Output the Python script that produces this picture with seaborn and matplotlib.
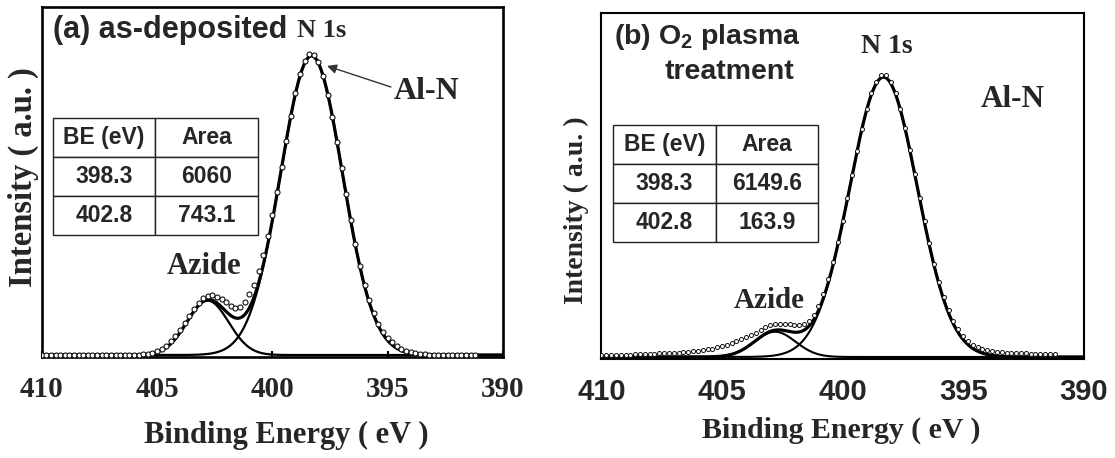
import numpy as np
import pandas as pd
import matplotlib
matplotlib.use("Agg")
import matplotlib.pyplot as plt
from matplotlib.font_manager import FontProperties
import seaborn as sns

# ---------------------------------------------------------------- data
# binding-energy grid of the N 1s scans (eV), high to low, 0.2 eV step
energy = np.linspace(410.0, 391.2, 95)

# measured N 1s counts, as-deposited AlN film
counts_asdep = [
    0, 0, 0, 0, 0, 0, 0, 0, 0, 0,
    0, 0, 0, 0, 0, 0, 0, 0, 0, 0,
    0, 0,
    5, 9, 15, 25,
    39, 57, 82, 113, 150,
    193, 237, 280, 316, 342,
    357, 360, 352, 337, 318,
    298, 284, 290, 318, 365,
    420, 505, 605, 718, 845,
    980, 1135, 1292, 1444, 1580,
    1692, 1770, 1812, 1808, 1764,
    1680, 1570, 1436, 1286, 1128,
    968, 812, 668, 538, 425,
    330, 252, 190, 141, 104,
    76, 55, 39, 27, 18,
    12, 8, 5, 3, 2,
    1, 1,
    0, 0, 0, 0, 0, 0, 0,
]

# measured N 1s counts after O2 plasma treatment
counts_plasma = [
    10, 11, 11, 12, 13, 14, 15, 16, 18, 19,
    20, 21, 22, 24, 25, 26, 28, 30, 32, 35,
    38, 42,
    47, 53, 60, 68,
    77, 87, 98, 110, 123,
    137, 152, 172, 188, 200,
    206, 208, 207, 204, 202,
    203, 208, 225, 262, 318,
    395, 485, 592, 718, 852,
    995, 1142, 1290, 1428, 1550,
    1650, 1720, 1765, 1765, 1722,
    1652, 1553, 1432, 1295, 1148,
    998, 850, 712, 585, 472,
    375, 294, 228, 175, 134,
    102, 78, 61, 50, 42,
    36, 32, 29, 27, 25,
    24, 23, 22, 21, 20,
    20, 19, 19, 18,
]

# fitted Gaussian components: Al-N and azide
peak_names = ["Al-N", "Azide"]
be_peaks = [398.3, 402.8]
height_asdep = [1804, 327.6]
fwhm_asdep = [3.16, 2.13]
height_plasma = [1752, 158]
fwhm_plasma = [3.30, 2.00]

# inset tables
table_cols = ["BE (eV)", "Area"]
area_asdep = [6060, 743.1]
area_plasma = [6149.6, 163.9]

tick_values = [410, 405, 400, 395, 390]

# ---------------------------------------------------------------- style
sns.set_theme(style="white")
plt.rcParams["font.family"] = ["Liberation Serif", "DejaVu Serif"]
plt.rcParams["mathtext.fontset"] = "custom"
plt.rcParams["mathtext.rm"] = "Liberation Sans:bold"
plt.rcParams["mathtext.it"] = "Liberation Sans:bold"
plt.rcParams["mathtext.bf"] = "Liberation Sans:bold"


def serif(size):
    return FontProperties(family="Liberation Serif", weight="bold", size=size)


def sans(size):
    return FontProperties(family="Liberation Sans", weight="bold", size=size)


def gaussian(x, centre, height, fwhm):
    return height * np.exp(-4 * np.log(2) * (x - centre) ** 2 / fwhm ** 2)


fine_e = np.linspace(410, 390, 801)

fig = plt.figure(figsize=(11.15, 4.58), dpi=100)
ax_a = fig.add_axes([0.0374, 0.2205, 0.4137, 0.7648])
ax_b = fig.add_axes([0.5394, 0.2162, 0.4325, 0.7561])


def draw_panel(ax, counts, heights, fwhms, areas, ylim, frame_lw, fit_lw,
               comp_lw, msize, medge, tick_fp, tick_len, table_bbox):
    comps = [gaussian(fine_e, c, h, w) for c, h, w in zip(be_peaks, heights, fwhms)]
    df_fit = pd.DataFrame({"BE": fine_e, "AlN": comps[0], "Azide": comps[1],
                           "Sum": comps[0] + comps[1]})
    for col in ["AlN", "Azide"]:
        sns.lineplot(data=df_fit, x="BE", y=col, ax=ax, color="black",
                     lw=comp_lw, sort=False, zorder=3)
    sns.lineplot(data=df_fit, x="BE", y="Sum", ax=ax, color="black",
                 lw=fit_lw, sort=False, zorder=4)
    df_pts = pd.DataFrame({"BE": energy, "counts": counts})
    sns.scatterplot(data=df_pts, x="BE", y="counts", ax=ax, marker="o",
                    s=msize ** 2, color="white", edgecolor="#111111",
                    linewidth=medge, zorder=5)

    ax.set_xlim(410, 390)
    ax.set_ylim(*ylim)
    ax.set_yticks([])
    ax.set_xticks(tick_values)
    ax.set_xticklabels([str(t) for t in tick_values])
    for lbl in ax.get_xticklabels():
        lbl.set_fontproperties(tick_fp)
    ax.tick_params(axis="x", bottom=True, direction="in", length=tick_len,
                   width=1.5, color="black", pad=13.5)
    for sp in ax.spines.values():
        sp.set_visible(True)
        sp.set_color("black")
        sp.set_linewidth(frame_lw)
    ax.set_xlabel("")
    ax.set_ylabel("")

    rows = [[f"{b:g}", f"{a:g}"] for b, a in zip(be_peaks, areas)]
    tbl = ax.table(cellText=rows, colLabels=table_cols, cellLoc="center",
                   bbox=table_bbox)
    tbl.auto_set_font_size(False)
    for cell in tbl.get_celld().values():
        cell.set_edgecolor("#222222")
        cell.set_linewidth(1.0)
        cell.set_facecolor("white")
        cell.get_text().set_fontproperties(sans(16.5))
    tbl.set_zorder(6)


# (a) as-deposited
draw_panel(ax_a, counts_asdep, height_asdep, fwhm_asdep, area_asdep,
           (-12, 2100), 1.9, 2.3, 1.6, 3.6, 0.8, serif(21), 4,
           [0.0238, 0.3483, 0.4444, 0.3331])
ax_a.text(0.0238, 0.9335, "(a) as-deposited", transform=ax_a.transAxes,
          ha="left", va="center", fontproperties=sans(22))
ax_a.text(0.6075, 0.9335, "N 1s", transform=ax_a.transAxes,
          ha="center", va="center", fontproperties=serif(19))
ax_a.text(393.3, 1586, "Al-N", ha="center", va="center",
          fontproperties=serif(23))
ax_a.text(402.96, 531, "Azide", ha="center", va="center",
          fontproperties=serif(22))
ax_a.annotate("", xy=(397.63, 1743), xytext=(394.86, 1616),
              arrowprops=dict(arrowstyle="-|>", color="#333333", lw=1.0,
                              mutation_scale=14, shrinkA=0, shrinkB=0))
ax_a.set_xlabel("Binding Energy ( eV )", fontproperties=serif(22))
ax_a.xaxis.set_label_coords(0.5296, -0.2227)
ax_a.xaxis.label.set_va("center")
ax_a.set_ylabel("Intensity ( a.u. )", fontproperties=serif(23.5))
ax_a.yaxis.set_label_coords(-0.0405, 0.514)
ax_a.yaxis.label.set_va("center")

# (b) after O2 plasma
draw_panel(ax_b, counts_plasma, height_plasma, fwhm_plasma, area_plasma,
           (-12.5, 2155), 1.5, 2.3, 1.5, 2.9, 0.7, sans(21), 2.5,
           [0.0247, 0.3387, 0.4251, 0.3370])
ax_b.text(0.0261, 0.930, "(b) O$_2$ plasma", transform=ax_b.transAxes,
          ha="left", va="center", fontproperties=sans(20.5))
ax_b.text(0.2646, 0.8288, "treatment", transform=ax_b.transAxes,
          ha="center", va="center", fontproperties=sans(20.5))
ax_b.text(0.591, 0.901, "N 1s", transform=ax_b.transAxes,
          ha="center", va="center", fontproperties=serif(20))
ax_b.text(0.8536, 0.748, "Al-N", transform=ax_b.transAxes,
          ha="center", va="center", fontproperties=serif(22.5))
ax_b.text(0.3473, 0.170, "Azide", transform=ax_b.transAxes,
          ha="center", va="center", fontproperties=serif(21))
ax_b.set_xlabel("Binding Energy ( eV )", fontproperties=serif(21.5))
ax_b.xaxis.set_label_coords(0.498, -0.205)
ax_b.xaxis.label.set_va("center")
ax_b.set_ylabel("Intensity ( a.u. )", fontproperties=serif(20))
ax_b.yaxis.set_label_coords(-0.0527, 0.430)
ax_b.yaxis.label.set_va("center")

fig.savefig("out.png", dpi=100, facecolor="white")
